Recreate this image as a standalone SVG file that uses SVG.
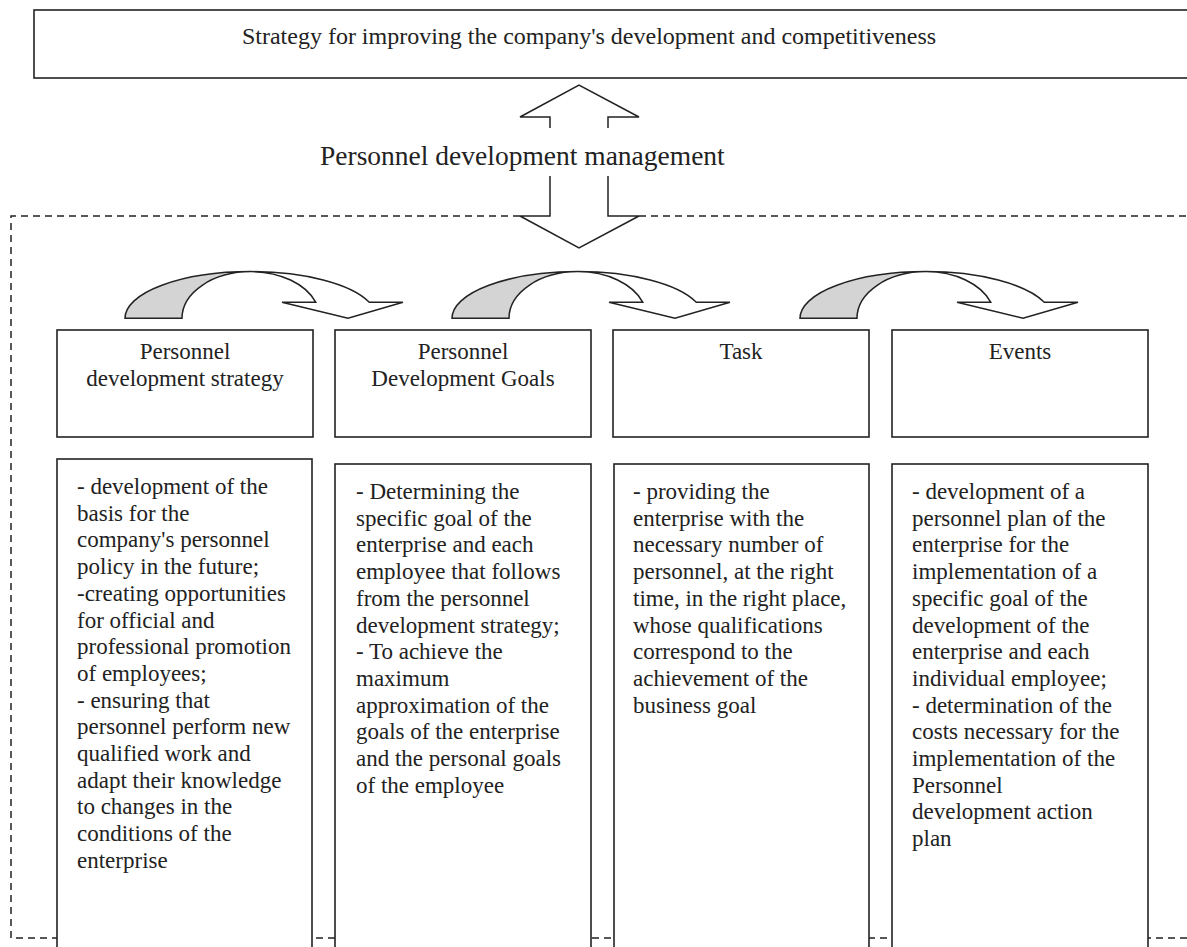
<svg xmlns="http://www.w3.org/2000/svg" width="1187" height="947" viewBox="0 0 1187 947">
<style>
.box{fill:#fff;stroke:#222;stroke-width:1.6}
.t{font-family:"Liberation Serif","Times New Roman",serif;font-size:23px;fill:#222}
.tc{text-anchor:middle}
.dash{fill:none;stroke:#222;stroke-width:1.5;stroke-dasharray:7 5}
.arr{fill:#fff;stroke:#222;stroke-width:1.5;stroke-linejoin:miter}
.grey{fill:#d4d4d4;stroke:#222;stroke-width:1.5}
</style>
<defs>
<g id="curve">
<path class="grey" d="M125 318.3 A126 46.7 0 0 1 251 271.6 A69 46.7 0 0 0 182 318.3 Z"/>
<path class="arr" d="M251 271.6 A126 46.7 0 0 1 369.3 302.3 L403 302.3 L348 318.3 L282 302.3 L315.8 302.3 A69 46.7 0 0 0 251 271.6 Z"/>
</g>
</defs>
<rect width="1187" height="947" fill="#fff"/>
<g id="frame">
<path class="dash" d="M520 216 L11 216 L11 938 L1190 938"/>
<path class="dash" d="M639 216 L1190 216"/>
</g>
<g id="top">
<rect class="box" x="34" y="10" width="1170" height="68"/>
<text class="t tc" x="589" y="44" style="font-size:24px">Strategy for improving the company's development and competitiveness</text>
</g>
<g id="connectors">
<polyline class="arr" points="550,128 550,117 520,117 579,85 639,117 608,117 608,128"/>
<polyline class="arr" points="550,176 550,216 520,216 579,248 639,216 608,216 608,176"/>
<use href="#curve"/>
<use href="#curve" x="327"/>
<use href="#curve" x="675"/>
</g>
<g id="label">
<text class="t" x="320" y="165" style="font-size:27.5px">Personnel development management</text>
</g>
<g id="h1">
<rect class="box" x="57" y="330" width="256" height="107"/>
<text class="t tc" x="185" y="359">Personnel</text>
<text class="t tc" x="185" y="386">development strategy</text>
</g>
<g id="h2">
<rect class="box" x="335" y="330" width="256" height="107"/>
<text class="t tc" x="463" y="359">Personnel</text>
<text class="t tc" x="463" y="386">Development Goals</text>
</g>
<g id="h3">
<rect class="box" x="613" y="330" width="256" height="107"/>
<text class="t tc" x="741" y="359">Task</text>
</g>
<g id="h4">
<rect class="box" x="892" y="330" width="256" height="107"/>
<text class="t tc" x="1020" y="359">Events</text>
</g>
<g id="d1">
<rect class="box" x="57" y="459" width="255" height="520"/>
<text class="t" x="77" y="494">
<tspan x="77" dy="0">- development of the</tspan>
<tspan x="77" dy="26.7">basis for the</tspan>
<tspan x="77" dy="26.7">company's personnel</tspan>
<tspan x="77" dy="26.7">policy in the future;</tspan>
<tspan x="77" dy="26.7">-creating opportunities</tspan>
<tspan x="77" dy="26.7">for official and</tspan>
<tspan x="77" dy="26.7">professional promotion</tspan>
<tspan x="77" dy="26.7">of employees;</tspan>
<tspan x="77" dy="26.7">- ensuring that</tspan>
<tspan x="77" dy="26.7">personnel perform new</tspan>
<tspan x="77" dy="26.7">qualified work and</tspan>
<tspan x="77" dy="26.7">adapt their knowledge</tspan>
<tspan x="77" dy="26.7">to changes in the</tspan>
<tspan x="77" dy="26.7">conditions of the</tspan>
<tspan x="77" dy="26.7">enterprise</tspan>
</text>
</g>
<g id="d2">
<rect class="box" x="335" y="464" width="256" height="520"/>
<text class="t" x="356" y="499">
<tspan x="356" dy="0">- Determining the</tspan>
<tspan x="356" dy="26.7">specific goal of the</tspan>
<tspan x="356" dy="26.7">enterprise and each</tspan>
<tspan x="356" dy="26.7">employee that follows</tspan>
<tspan x="356" dy="26.7">from the personnel</tspan>
<tspan x="356" dy="26.7">development strategy;</tspan>
<tspan x="356" dy="26.7">- To achieve the</tspan>
<tspan x="356" dy="26.7">maximum</tspan>
<tspan x="356" dy="26.7">approximation of the</tspan>
<tspan x="356" dy="26.7">goals of the enterprise</tspan>
<tspan x="356" dy="26.7">and the personal goals</tspan>
<tspan x="356" dy="26.7">of the employee</tspan>
</text>
</g>
<g id="d3">
<rect class="box" x="614" y="464" width="255" height="520"/>
<text class="t" x="633" y="499">
<tspan x="633" dy="0">- providing the</tspan>
<tspan x="633" dy="26.7">enterprise with the</tspan>
<tspan x="633" dy="26.7">necessary number of</tspan>
<tspan x="633" dy="26.7">personnel, at the right</tspan>
<tspan x="633" dy="26.7">time, in the right place,</tspan>
<tspan x="633" dy="26.7">whose qualifications</tspan>
<tspan x="633" dy="26.7">correspond to the</tspan>
<tspan x="633" dy="26.7">achievement of the</tspan>
<tspan x="633" dy="26.7">business goal</tspan>
</text>
</g>
<g id="d4">
<rect class="box" x="892" y="464" width="256" height="520"/>
<text class="t" x="912" y="499">
<tspan x="912" dy="0">- development of a</tspan>
<tspan x="912" dy="26.7">personnel plan of the</tspan>
<tspan x="912" dy="26.7">enterprise for the</tspan>
<tspan x="912" dy="26.7">implementation of a</tspan>
<tspan x="912" dy="26.7">specific goal of the</tspan>
<tspan x="912" dy="26.7">development of the</tspan>
<tspan x="912" dy="26.7">enterprise and each</tspan>
<tspan x="912" dy="26.7">individual employee;</tspan>
<tspan x="912" dy="26.7">- determination of the</tspan>
<tspan x="912" dy="26.7">costs necessary for the</tspan>
<tspan x="912" dy="26.7">implementation of the</tspan>
<tspan x="912" dy="26.7">Personnel</tspan>
<tspan x="912" dy="26.7">development action</tspan>
<tspan x="912" dy="26.7">plan</tspan>
</text>
</g>
</svg>
